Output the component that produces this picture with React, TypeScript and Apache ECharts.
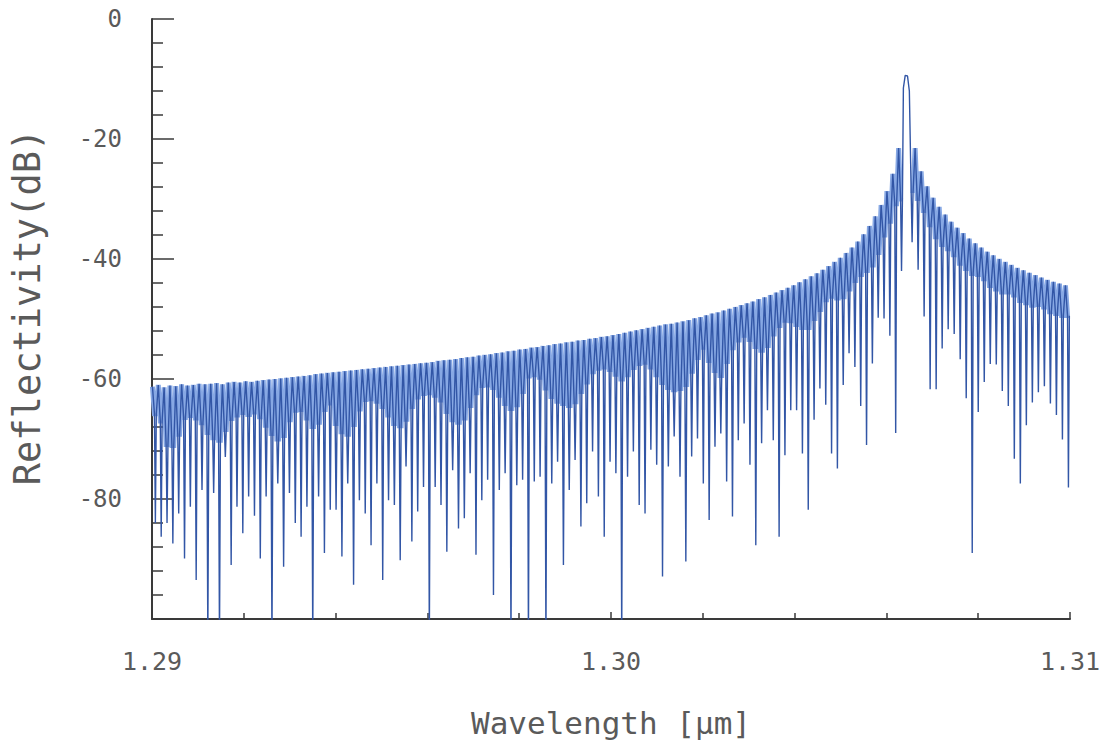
import React, { useEffect, useRef } from 'react';
import * as echarts from 'echarts';

// Axis ranges / ticks
const X_MIN = 1.29;
const X_MAX = 1.31;
const X_INTERVAL = 0.01;
const Y_MIN = -100;
const Y_MAX = 0;
const Y_INTERVAL = 20;

// Sampling grid of the spectrum (µm)
const LEFT_START = 1.29001;
const LEFT_HALF_STEP = 0.0000635;
const RIGHT_START = 1.30656;
const RIGHT_HALF_STEP = 0.0000655;
const DIP_HALF_WIDTH = 0.00002;

// Side-lobe maxima left of the main peak (dB)
const leftPeakDb = [
  -61.3, -61.0, -61.4, -61.1, -61.2, -60.9, -61.1, -61.0, -60.8, -60.9,
  -60.8, -60.7, -60.9, -60.6, -60.5, -60.6, -60.4, -60.5, -60.3, -60.2,
  -60.1, -60.0, -59.9, -59.8, -59.7, -59.6, -59.5, -59.4, -59.2, -59.1,
  -59.0, -58.9, -58.8, -58.7, -58.6, -58.5, -58.4, -58.3, -58.2, -58.1,
  -58.0, -57.9, -57.8, -57.7, -57.6, -57.5, -57.4, -57.3, -57.2, -57.0,
  -56.9, -56.8, -56.7, -56.5, -56.4, -56.3, -56.1, -56.0, -55.9, -55.7,
  -55.6, -55.4, -55.3, -55.1, -55.0, -54.8, -54.7, -54.5, -54.4, -54.2,
  -54.1, -53.9, -53.8, -53.6, -53.5, -53.3, -53.2, -53.0, -52.9, -52.7,
  -52.5, -52.3, -52.1, -51.9, -51.7, -51.5, -51.3, -51.1, -50.9, -50.8,
  -50.6, -50.4, -50.2, -49.9, -49.7, -49.4, -49.1, -48.9, -48.6, -48.3,
  -48.0, -47.7, -47.4, -47.1, -46.7, -46.4, -46.0, -45.6, -45.2, -44.8,
  -44.4, -43.9, -43.4, -42.9, -42.4, -41.8, -41.2, -40.5, -39.8, -39.0,
  -38.1, -37.1, -35.9, -34.5, -32.9, -31.0, -28.7, -25.8, -21.5,
];

// Deepest sample of each dip left of the main peak (dB)
const leftDipDb = [
  -84, -86.3, -84, -87.4, -82.4, -89.9, -81.3, -93.5, -78.5, -104,
  -79, -104, -73, -91, -81.3, -85.7, -79.6, -82.8, -89.9, -79.6,
  -104, -77.4, -91.3, -79, -84, -86.3, -81.3, -104, -79.6, -89,
  -81.8, -81.8, -89.6, -77.4, -94.3, -80.2, -82.4, -87.7, -77.4, -93.5,
  -80.2, -81, -90.2, -74.6, -87.1, -82.1, -78, -104, -78, -81,
  -88.8, -75.2, -84.9, -83.2, -75.7, -89.3, -80.2, -76.8, -96, -78.5,
  -75.7, -104, -77.7, -76.8, -104, -77.1, -76.3, -104, -77.4, -73.8,
  -91, -78.5, -73.5, -84.6, -80.7, -72.1, -79.6, -86.3, -73.8, -75.7,
  -104, -76.3, -72.1, -81, -82.4, -71.8, -74.3, -92.9, -74.6, -69.6,
  -76.3, -90.4, -72.9, -69.9, -77.4, -83.5, -71.3, -69.1, -77.1, -82.9,
  -70.2, -67.4, -74.3, -87.7, -70.7, -65.2, -70.2, -86.3, -72.7, -65.2,
  -65.2, -72.4, -81.8, -66.8, -61.6, -64.3, -72.4, -74.9, -61, -55.7,
  -58, -64.5, -71, -57.4, -49.8, -49.9, -52.8, -69, -42,
];

// How far (dB) below the side-lobe top the dense band reaches before each dip
const leftBandDepthDb = [
  4.5, 6, 9.5, 10, 8, 5.5, 5, 5.5, 6.5, 8,
  9, 9.5, 7.5, 6, 5.5, 5, 5.5, 5, 6, 7.5,
  9, 10, 9.5, 7, 5.5, 5.5, 7, 8.5, 8, 6,
  5, 8.5, 10, 10.5, 9, 6.5, 5, 5, 5.5, 6.5,
  8, 9.5, 10, 9, 7, 5.5, 5, 5, 5.5, 6.5,
  8.5, 10, 10.5, 10, 8, 6, 5, 5, 5.5, 7,
  8.5, 9.5, 9, 7, 4.5, 4.5, 5, 7, 8.5, 9.5,
  10, 10.5, 10, 8.5, 7, 5.5, 5, 5, 5.5, 6.5,
  7.5, 7, 6, 5.5, 5.5, 6.5, 8, 9.5, 10.5, 11,
  11, 10.5, 8.5, 6.5, 5, 7.5, 9.5, 10.5, 8.5, 6.5,
  5.5, 5, 6, 7.5, 8.5, 8, 6.5, 5.5, 5, 5.5,
  6.5, 7.5, 8, 7, 6, 5, 5, 6, 6.5, 6,
  5.5, 5.5, 6, 6.5, 6, 5, 5, 5, 8.5,
];

// Main Bragg peak
const mainLobeWl = [1.30637, 1.30641, 1.30646, 1.3065];
const mainLobeDb = [-11.5, -9.4, -9.5, -12];

// Right of the main peak
const rightDipDb = [
  -37.2, -41.8, -49.6, -61.7, -61.7, -54.9, -51.7, -52.5, -56.7, -63.2,
  -89, -65.5, -60.5, -57.5, -57.6, -62, -64.5, -73.3, -77.4, -67.7,
  -63.9, -62.2, -61.2, -64.1, -66, -70.1, -78.1,
];
const rightPeakDb = [
  -21.5, -25.4, -27.9, -29.8, -31.3, -32.6, -33.8, -34.8, -35.7, -36.6,
  -37.4, -38.1, -38.8, -39.4, -40.0, -40.5, -41.0, -41.5, -41.9, -42.3,
  -42.7, -43.1, -43.5, -43.8, -44.1, -44.4,
];
const rightBandDepthDb = [
  7.5, 4.5, 4, 4.5, 5, 5, 4.5, 4.5, 5, 5,
  5, 4.5, 4.5, 5, 5, 5, 4.5, 4.5, 5, 5,
  5, 4.5, 4.5, 5, 5, 5, 5,
];

const X_NAME = 'Wavelength [µm]';
const Y_NAME = 'Reflectivity(dB)';

type Pt = [number, number | string];

function buildSpectrum(withDips: boolean): Pt[] {
  const pts: Pt[] = [];
  const dip = (x: number, bottom: number, band: number) => {
    pts.push([x - DIP_HALF_WIDTH, band]);
    if (withDips) pts.push([x, bottom]);
    pts.push([x + DIP_HALF_WIDTH, band]);
  };
  leftPeakDb.forEach((p, j) => {
    pts.push([LEFT_START + 2 * j * LEFT_HALF_STEP, p]);
    dip(LEFT_START + (2 * j + 1) * LEFT_HALF_STEP, leftDipDb[j], p - leftBandDepthDb[j]);
  });
  if (withDips) {
    mainLobeWl.forEach((w, i) => pts.push([w, mainLobeDb[i]]));
  } else {
    pts.push([mainLobeWl[1], '-']);
  }
  rightDipDb.forEach((d, j) => {
    const ref = rightPeakDb[Math.min(j, rightPeakDb.length - 1)];
    const x = RIGHT_START + 2 * j * RIGHT_HALF_STEP;
    if (!withDips && j === 0) {
      pts.push([x + DIP_HALF_WIDTH, ref - rightBandDepthDb[j]]);
    } else {
      dip(x, d, ref - rightBandDepthDb[j]);
    }
    if (j < rightPeakDb.length) {
      pts.push([RIGHT_START + (2 * j + 1) * RIGHT_HALF_STEP, rightPeakDb[j]]);
    }
  });
  return pts;
}

const FONT = 'DejaVu Sans Mono';
const TEXT_COLOR = '#5a5a5a';
const AXIS_COLOR = '#3a3a3a';

export default function App() {
  const ref = useRef<HTMLDivElement>(null);
  useEffect(() => {
    if (!ref.current) return;
    const chart = echarts.init(ref.current, undefined, { renderer: 'svg' });
    chart.setOption({
      animation: false,
      backgroundColor: '#ffffff',
      grid: { left: 152, right: 34, top: 19, bottom: 136 },
      xAxis: {
        type: 'value',
        min: X_MIN,
        max: X_MAX,
        interval: X_INTERVAL,
        name: X_NAME,
        nameLocation: 'middle',
        nameGap: 88,
        nameTextStyle: { fontFamily: FONT, fontSize: 31, color: TEXT_COLOR },
        axisLine: { show: true, onZero: false, lineStyle: { color: AXIS_COLOR, width: 2 } },
        axisTick: { show: true, inside: true, length: 7, lineStyle: { color: AXIS_COLOR, width: 1.5 } },
        minorTick: { show: true, splitNumber: 5, length: 6, lineStyle: { color: AXIS_COLOR, width: 1.5 } },
        axisLabel: {
          margin: 30,
          fontFamily: FONT,
          fontSize: 25,
          color: TEXT_COLOR,
          formatter: (v: number) => v.toFixed(2),
        },
        splitLine: { show: false },
      },
      yAxis: {
        type: 'value',
        min: Y_MIN,
        max: Y_MAX,
        interval: Y_INTERVAL,
        name: Y_NAME,
        nameLocation: 'middle',
        nameGap: 106,
        nameTextStyle: { fontFamily: FONT, fontSize: 37, color: TEXT_COLOR, padding: [0, 0, 0, 24] },
        axisLine: { show: true, onZero: false, lineStyle: { color: AXIS_COLOR, width: 2 } },
        axisTick: { show: true, inside: true, length: 22, lineStyle: { color: AXIS_COLOR, width: 1.5 } },
        minorTick: { show: true, splitNumber: 5, length: 11, lineStyle: { color: AXIS_COLOR, width: 1.5 } },
        axisLabel: {
          margin: 30,
          fontFamily: FONT,
          fontSize: 24,
          color: TEXT_COLOR,
          formatter: (v: number) => (v === Y_MIN ? '' : String(v)),
        },
        splitLine: { show: false },
      },
      series: [
        {
          type: 'line',
          data: buildSpectrum(false),
          showSymbol: false,
          symbol: 'none',
          clip: true,
          silent: true,
          connectNulls: false,
          lineStyle: { color: '#87a8e4', width: 5, join: 'miter' },
          z: 2,
        },
        {
          type: 'line',
          data: buildSpectrum(true),
          showSymbol: false,
          symbol: 'none',
          clip: true,
          silent: true,
          lineStyle: { color: '#3256a6', width: 1.4 },
          z: 3,
        },
      ],
    });
    return () => chart.dispose();
  }, []);
  return (
    <div
      ref={ref}
      style={{ position: 'absolute', left: 0, top: 0, width: 1104, height: 755 }}
    />
  );
}
